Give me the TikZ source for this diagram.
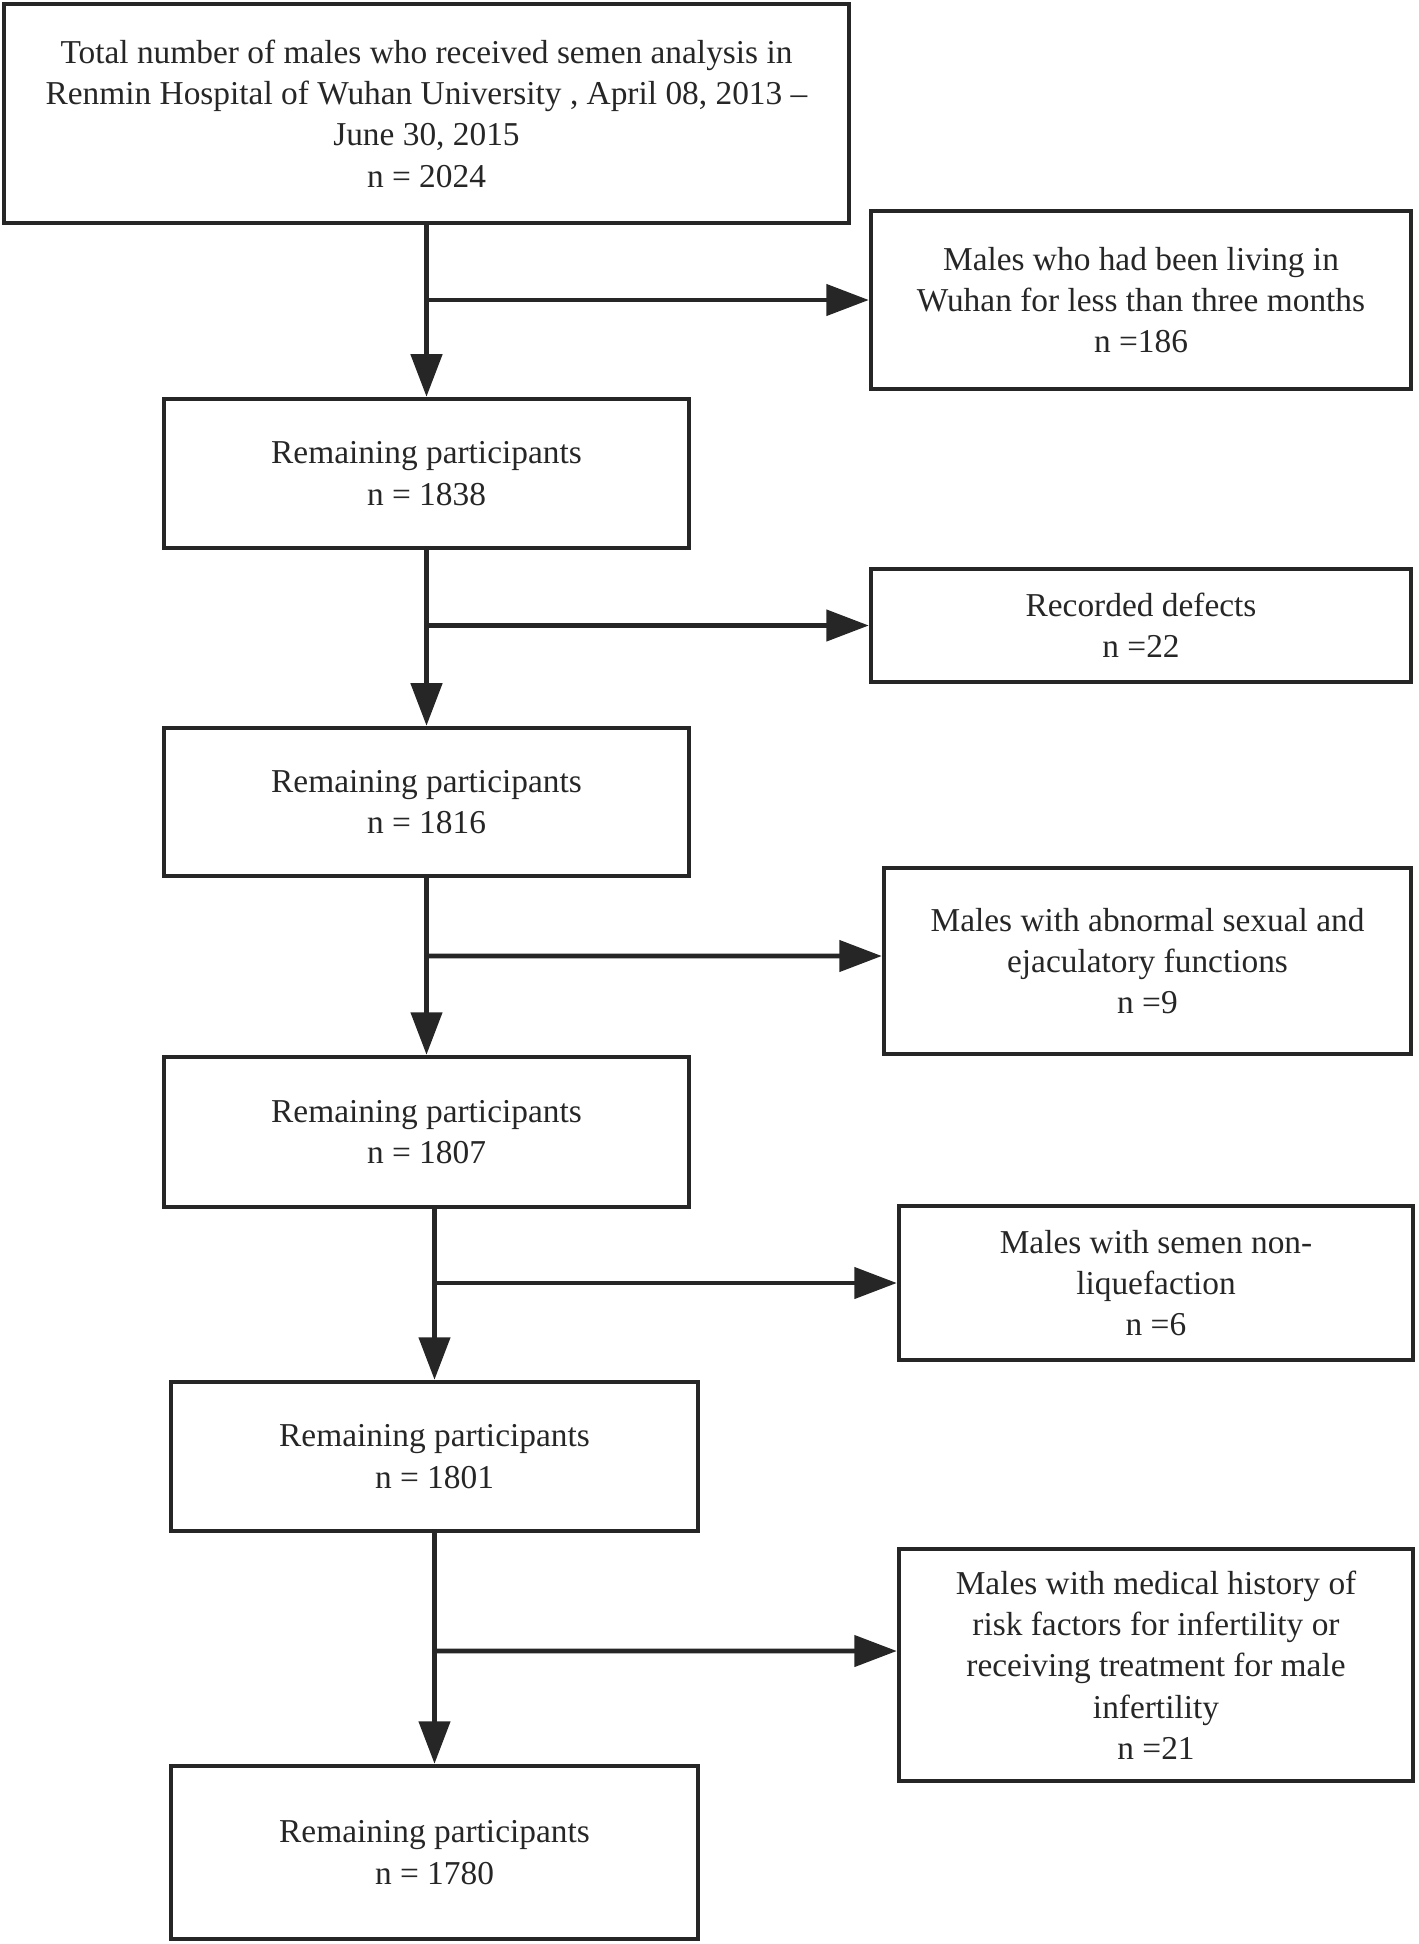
\documentclass[tikz,border=0pt]{standalone}
\usepackage{fontspec}
\setmainfont{Liberation Serif}
\usepackage{tikz}
\usetikzlibrary{arrows.meta}

\begin{document}
\begin{tikzpicture}[x=0.02cm,y=-0.02cm,->,>={Triangle[length=0.85cm,width=0.62cm]},line width=2.6pt,draw=black!85,
  stage node/.style={draw,rectangle,align=center,inner sep=0pt,font=\fontsize{19}{23.5}\selectfont,text=black!85},
  excl node/.style={stage node}]
  \useasboundingbox (0,0) rectangle (1418,1944);
  \node[stage node,minimum width=16.9cm,minimum height=4.38cm] (r0) at (426.5,113.5) {Total number of males who received semen analysis in\\Renmin Hospital of Wuhan University , April 08, 2013 --\\June 30, 2015\\n = 2024};
  \node[excl node,minimum width=10.8cm,minimum height=3.56cm] (e1) at (1141,300) {Males who had been living in\\Wuhan for less than three months\\n =186};
  \node[stage node,minimum width=10.5cm,minimum height=2.98cm] (r1) at (426.5,473.5) {Remaining participants\\n = 1838};
  \node[excl node,minimum width=10.8cm,minimum height=2.26cm] (e2) at (1141,625.5) {Recorded defects\\n =22};
  \node[stage node,minimum width=10.5cm,minimum height=2.96cm] (r2) at (426.5,802) {Remaining participants\\n = 1816};
  \node[excl node,minimum width=10.54cm,minimum height=3.72cm] (e3) at (1147.5,961) {Males with abnormal sexual and\\ejaculatory functions\\n =9};
  \node[stage node,minimum width=10.5cm,minimum height=3.0cm] (r3) at (426.5,1132) {Remaining participants\\n = 1807};
  \node[excl node,minimum width=10.28cm,minimum height=3.08cm] (e4) at (1156,1283) {Males with semen non-\\liquefaction\\n =6};
  \node[stage node,minimum width=10.54cm,minimum height=2.98cm] (r4) at (434.5,1456.5) {Remaining participants\\n = 1801};
  \node[excl node,minimum width=10.28cm,minimum height=4.64cm] (e5) at (1156,1665) {Males with medical history of\\risk factors for infertility or\\receiving treatment for male\\infertility\\n =21};
  \node[stage node,minimum width=10.54cm,minimum height=3.46cm] (r5) at (434.5,1852.5) {Remaining participants\\n = 1780};

  \path
  (r0) edge (r1)
  (r1) edge (r2)
  (r2) edge (r3)
  (r3.south -| r4.north) edge (r4.north)
  (r4) edge (r5)
  (r0.south |- e1.west) edge (e1.west)
  (r1.south |- e2.west) edge (e2.west)
  (r2.south |- 0,956) edge ([yshift=0.1cm]e3.west)
  (r4.north |- e4.west) edge (e4.west)
  (r4.south |- 0,1651) edge ([yshift=0.28cm]e5.west);
\end{tikzpicture}
\end{document}
